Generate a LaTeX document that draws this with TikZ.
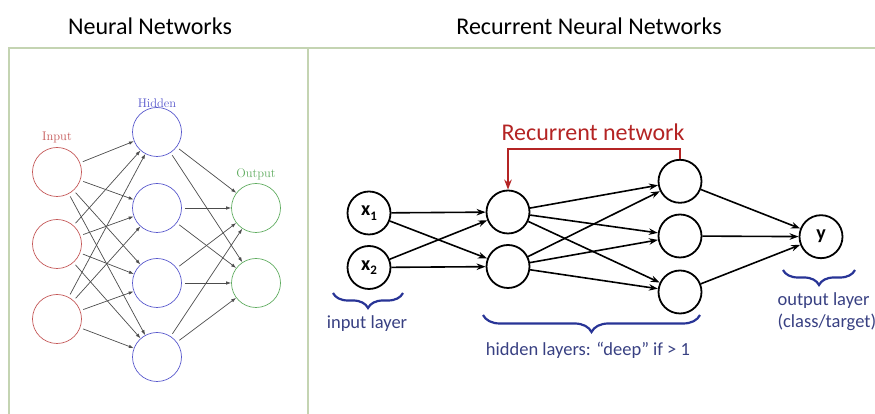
\documentclass[tikz,border=0pt]{standalone}
\usepackage{fontspec}
\newfontfamily\calibri{Carlito}
\usetikzlibrary{arrows.meta,decorations.pathreplacing}
\definecolor{framegreen}{RGB}{196,212,178}
\definecolor{inred}{RGB}{196,88,88}
\definecolor{hidblue}{RGB}{88,88,204}
\definecolor{outgreen}{RGB}{96,172,96}
\definecolor{recred}{RGB}{180,36,36}
\definecolor{bracenavy}{RGB}{40,52,150}
\definecolor{labelnavy}{RGB}{56,64,130}
\newcommand{\rnnsub}[1]{\raisebox{-0.45ex}{\fontsize{13}{13}\selectfont #1}}
\tikzset{
  nnunit/.style={circle, draw, line width=0.7pt, minimum size=49pt, inner sep=0pt},
  nnlabel/.style={font=\fontsize{12.5}{14}\selectfont},
  nnarrow/.style={-{Latex[length=5pt,width=3.5pt]}, draw=black!70, line width=0.7pt, shorten <=3pt},
  rnnunit/.style={circle, draw=black, line width=1.8pt, minimum size=43pt, inner sep=0pt,
    font=\calibri\bfseries\fontsize{20}{20}\selectfont},
  rnnarrow/.style={-{Stealth[length=9pt,width=6.5pt]}, line width=1.6pt},
  layerbrace/.style={decorate, decoration={brace, mirror, amplitude=15pt}, draw=bracenavy, line width=2.2pt},
  bracetext/.style={text=labelnavy, font=\calibri\fontsize{18.5}{22}\selectfont},
  title/.style={font=\calibri\fontsize{24}{28}\selectfont}
}
\begin{document}
\begin{tikzpicture}[x=1pt, y=1pt]
  \useasboundingbox (0,0) rectangle (875,414);
  % titles and frame
  \node[title] (t1) at (150,388) {Neural Networks};
  \node[title] (t2) at (589,388) {Recurrent Neural Networks};
  \draw[framegreen, line width=1.5pt] (9,-5) -- (9,366) -- (880,366);
  \draw[framegreen, line width=1.5pt] (308,366) -- (308,-5);

  % classic neural network
  \node[nnunit, draw=inred] (i1) at (57,242) {};
  \node[nnunit, draw=inred] (i2) at (57,170) {};
  \node[nnunit, draw=inred] (i3) at (57,95) {};
  \node[nnunit, draw=hidblue] (h1) at (157,282) {};
  \node[nnunit, draw=hidblue] (h2) at (157,206) {};
  \node[nnunit, draw=hidblue] (h3) at (157,131) {};
  \node[nnunit, draw=hidblue] (h4) at (157,57) {};
  \node[nnunit, draw=outgreen] (o1) at (256,206) {};
  \node[nnunit, draw=outgreen] (o2) at (256,131) {};
  \node[nnlabel, text=inred] (inlbl) at (57,277) {Input};
  \node[nnlabel, text=hidblue] (hidlbl) at (157,311) {Hidden};
  \node[nnlabel, text=outgreen] (outlbl) at (256,240) {Output};
  \foreach \a in {1,2,3}
    \foreach \b in {1,2,3,4}
      \draw[nnarrow] (i\a) -- (h\b);
  \foreach \a in {1,2,3,4}
    \foreach \b in {1,2}
      \draw[nnarrow] (h\a) -- (o\b);

  % recurrent network
  \node[rnnunit] (x1) at (369,201) {x\rnnsub{1}};
  \node[rnnunit] (x2) at (369,146.5) {x\rnnsub{2}};
  \node[rnnunit] (ha) at (508,202) {};
  \node[rnnunit] (hb) at (508,147.5) {};
  \node[rnnunit] (ga) at (680,232.7) {};
  \node[rnnunit] (gb) at (680,178) {};
  \node[rnnunit] (gc) at (680,122) {};
  \node[rnnunit] (yy) at (821,177.3) {y};
  \foreach \a in {x1,x2}
    \foreach \b in {ha,hb}
      \draw[rnnarrow] (\a) -- (\b);
  \foreach \a in {ha,hb}
    \foreach \b in {ga,gb,gc}
      \draw[rnnarrow] (\a) -- (\b);
  \foreach \a in {ga,gb,gc}
    \draw[rnnarrow] (\a) -- (yy);
  \draw[recred, line width=1.8pt, -{Stealth[length=10pt,width=7.5pt]}]
    (ga.north) -- (680,265) -- (508,265) -- (ha.north);
  \node[text=recred, font=\calibri\fontsize{24}{28}\selectfont] (rec) at (593,282) {Recurrent network};

  % layer braces
  \draw[layerbrace] (333,121) -- (403,121);
  \node[bracetext] (inlayer) at (367,90) {input layer};
  \draw[layerbrace, decoration={amplitude=17pt}] (483,99) -- (700,99);
  \node[bracetext] (hidlayer) at (588,64) {hidden layers: “deep” if > 1};
  \draw[layerbrace] (783,144) -- (855,144);
  \node[bracetext, align=left, anchor=west] (outlayer) at (774,102) {output layer\\(class/target)};
\end{tikzpicture}
\end{document}
